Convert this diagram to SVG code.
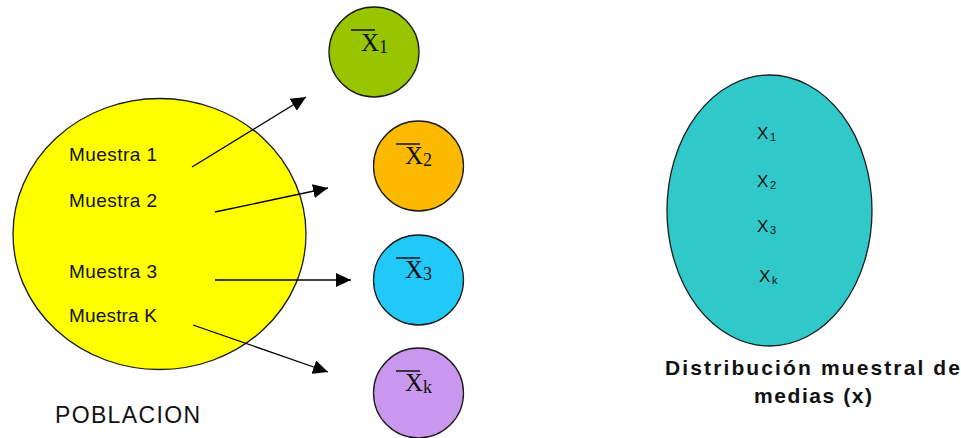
<svg xmlns="http://www.w3.org/2000/svg" width="961" height="438" viewBox="0 0 961 438">
<defs>
<marker id="ah" markerUnits="userSpaceOnUse" markerWidth="16" markerHeight="14" refX="15" refY="7" orient="auto">
<path d="M0,0 L15,7 L0,14 z" fill="#000"/>
</marker>
</defs>
<style>
.blob{stroke:#1a1a1a;stroke-width:1.3}
.lbl{font-family:"Liberation Sans",Arial,sans-serif;font-size:19px;fill:#111}
.xb{font-family:"Liberation Serif","Times New Roman",serif;font-size:25px;fill:#111}
.xs{font-family:"Liberation Serif","Times New Roman",serif;font-size:18px;fill:#111}
.ex{font-family:"Liberation Sans",Arial,sans-serif;font-size:17px;fill:#111}
.es{font-family:"Liberation Sans",Arial,sans-serif;font-size:11px;fill:#111}
.bar{stroke:#111;stroke-width:1.5}
.cap{font-family:"Liberation Sans",Arial,sans-serif;font-weight:bold;font-size:21px;fill:#111}
.conn{stroke:#000;stroke-width:1.3;fill:none}
</style>
<rect width="961" height="438" fill="#fff"/>
<g id="poblacion">
<ellipse class="blob" cx="159.5" cy="234" rx="146.5" ry="135.5" fill="#ffff00"/>
<text class="lbl" x="69" y="161" textLength="88">Muestra 1</text>
<text class="lbl" x="69" y="207" textLength="88">Muestra 2</text>
<text class="lbl" x="69" y="278" textLength="88">Muestra 3</text>
<text class="lbl" x="69" y="322" textLength="88">Muestra K</text>
<text x="55" y="423" font-family="Liberation Sans, Arial, sans-serif" font-size="23" fill="#111" textLength="145">POBLACION</text>
</g>
<g id="x1">
<circle class="blob" cx="374" cy="52" r="45" fill="#99c400"/>
<line class="bar" x1="351" y1="30" x2="375" y2="30"/>
<text class="xb" x="361" y="51">X</text>
<text class="xs" x="379" y="53">1</text>
</g>
<g id="x2">
<circle class="blob" cx="418.5" cy="166" r="45" fill="#fbb900"/>
<line class="bar" x1="396" y1="144" x2="420" y2="144"/>
<text class="xb" x="405" y="164">X</text>
<text class="xs" x="423" y="166">2</text>
</g>
<g id="x3">
<circle class="blob" cx="418.5" cy="280" r="45" fill="#22c8f8"/>
<line class="bar" x1="396" y1="258" x2="420" y2="258"/>
<text class="xb" x="405" y="278">X</text>
<text class="xs" x="423" y="280">3</text>
</g>
<g id="xk">
<circle class="blob" cx="418.5" cy="393" r="45" fill="#c998ee"/>
<line class="bar" x1="396" y1="371" x2="420" y2="371"/>
<text class="xb" x="405" y="391">X</text>
<text class="xs" x="423" y="393">k</text>
</g>
<g id="distribucion">
<ellipse class="blob" cx="769.5" cy="210.5" rx="102.5" ry="135.5" fill="#30c8c8"/>
<text class="ex" x="757" y="139">X</text><text class="es" x="770" y="141">1</text>
<text class="ex" x="757" y="187">X</text><text class="es" x="770" y="189">2</text>
<text class="ex" x="757" y="232">X</text><text class="es" x="770" y="234">3</text>
<text class="ex" x="759" y="282">X</text><text class="es" x="772" y="284">k</text>
<text class="cap" x="665" y="375" textLength="295">Distribución muestral de</text>
<text class="cap" x="754" y="403" textLength="118">medias (x)</text>
</g>
<g id="connectors">
<line class="conn" x1="192" y1="167" x2="306" y2="97" marker-end="url(#ah)"/>
<line class="conn" x1="215" y1="212" x2="328" y2="188" marker-end="url(#ah)"/>
<line class="conn" x1="215" y1="280" x2="351" y2="280" marker-end="url(#ah)"/>
<line class="conn" x1="193" y1="325" x2="328" y2="372" marker-end="url(#ah)"/>
</g>
</svg>
